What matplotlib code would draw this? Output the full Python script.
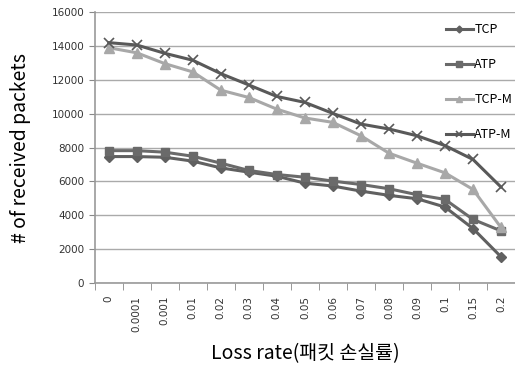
import matplotlib
matplotlib.use("Agg")
import matplotlib.pyplot as plt

plt.rcParams['font.family'] = ['Noto Sans CJK KR', 'DejaVu Sans']

loss_rates = ["0", "0.0001", "0.001", "0.01", "0.02", "0.03", "0.04", "0.05",
              "0.06", "0.07", "0.08", "0.09", "0.1", "0.15", "0.2"]
tcp = [7470, 7470, 7430, 7200, 6800, 6550, 6310, 5900, 5730, 5430, 5180, 4980, 4490, 3220, 1550]
atp = [7820, 7820, 7730, 7490, 7080, 6650, 6410, 6250, 6020, 5820, 5570, 5220, 4940, 3760, 3080]
tcp_m = [13900, 13600, 12960, 12470, 11390, 10960, 10270, 9750, 9490, 8700, 7670, 7080, 6510, 5530, 3280]
atp_m = [14200, 14060, 13570, 13160, 12370, 11700, 11020, 10670, 10020, 9390, 9100, 8700, 8120, 7300, 5670]

fig = plt.figure(figsize=(5.15, 3.69), dpi=100)
ax = fig.add_axes([0.184, 0.233, 0.816, 0.734])

x = range(len(loss_rates))
ax.plot(x, tcp, color="#606060", lw=2.2, marker="D", ms=5, label="TCP")
ax.plot(x, atp, color="#6a6a6a", lw=2.2, marker="s", ms=6, label="ATP")
ax.plot(x, tcp_m, color="#a8a8a8", lw=2.2, marker="^", ms=7, label="TCP-M")
ax.plot(x, atp_m, color="#595959", lw=2.2, marker="x", ms=7, mew=1.2, label="ATP-M")

ax.set_xlim(-0.5, len(loss_rates) - 0.5)
ax.set_ylim(0, 16000)
ax.set_yticks(range(0, 16001, 2000))
ax.set_xticks(x)
ax.set_xticklabels(loss_rates, rotation=90, fontsize=7.5, family="DejaVu Sans", color="#333333")
ax.set_xticks([i - 0.5 for i in range(len(loss_rates))], minor=True)
ax.tick_params(axis="x", which="major", length=0, pad=9)
ax.tick_params(axis="x", which="minor", length=5, color="#888888")
ax.tick_params(axis="y", length=4, color="#888888", labelsize=7.5, labelcolor="#333333")
for lab in ax.get_yticklabels():
    lab.set_family("DejaVu Sans")

ax.grid(axis="y", color="#aaaaaa", lw=1)
ax.set_axisbelow(True)
for s in ["top", "right"]:
    ax.spines[s].set_visible(False)
for s in ["left", "bottom"]:
    ax.spines[s].set_color("#999999")
    ax.spines[s].set_linewidth(1.2)

ax.set_ylabel("# of received packets", fontsize=14, labelpad=15)
ax.set_xlabel("Loss rate(패킷 손실률)", fontsize=14, labelpad=8)

ax.legend(loc="upper right", bbox_to_anchor=(1.02, 1.0), frameon=False,
          fontsize=9, labelspacing=1.75, handlelength=2.2, handletextpad=0.1,
          markerscale=0.7)

fig.savefig("out.png", dpi=100)
